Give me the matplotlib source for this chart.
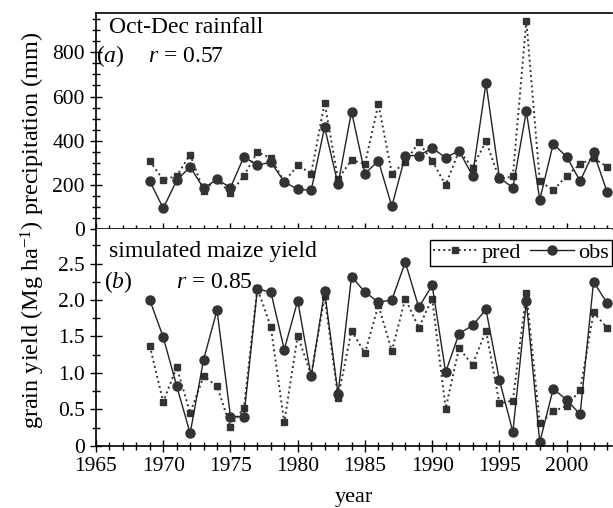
import matplotlib.pyplot as plt
from matplotlib.ticker import MultipleLocator

plt.rcParams['font.family'] = ['Liberation Serif', 'DejaVu Serif']
plt.rcParams['mathtext.fontset'] = 'custom'
plt.rcParams['mathtext.rm'] = 'Liberation Serif'
plt.rcParams['mathtext.it'] = 'Liberation Serif:italic'

years = list(range(1969, 2004))

rain_obs = [218, 95, 221, 282, 185, 226, 188, 328, 289, 304, 214, 181, 176, 461, 203, 532,
            252, 309, 104, 333, 333, 367, 324, 355, 242, 661, 233, 188, 533, 134, 386, 328,
            218, 348, 170]
rain_pred = [309, 223, 242, 337, 175, 227, 163, 242, 349, 322, 215, 289, 252, 571, 227, 313,
             295, 566, 252, 303, 393, 309, 200, 355, 279, 399, 226, 239, 943, 218, 176, 242,
             295, 321, 283]

yield_obs = [2.00, 1.49, 0.82, 0.17, 1.18, 1.86, 0.40, 0.40, 2.15, 2.11, 1.32, 1.99, 0.95,
             2.12, 0.71, 2.32, 2.11, 1.97, 2.00, 2.52, 1.90, 2.20, 1.01, 1.54, 1.65, 1.87,
             0.90, 0.19, 1.98, 0.05, 0.78, 0.63, 0.43, 2.25, 1.96]
yield_pred = [1.37, 0.60, 1.08, 0.45, 0.95, 0.82, 0.26, 0.52, 2.16, 1.63, 0.32, 1.51, 0.97,
              2.05, 0.66, 1.58, 1.27, 1.93, 1.30, 2.02, 1.62, 2.02, 0.51, 1.34, 1.11, 1.58,
              0.58, 0.62, 2.10, 0.31, 0.47, 0.55, 0.76, 1.83, 1.62]

fig = plt.figure(figsize=(6.13, 5.08), dpi=100)
left, right = 96 / 613, 0.999
ax1 = fig.add_axes([left, 0.5486, right - left, 0.9738 - 0.5486])
ax2 = fig.add_axes([left, 0.1226, right - left, 0.5486 - 0.1226])

col = '#333333'
for ax, pred, obs in [(ax1, rain_pred, rain_obs), (ax2, yield_pred, yield_obs)]:
    ax.plot(years, pred, linestyle=':', color=col, lw=1.4, marker='s', ms=5,
            mfc=col, mec=col, label='pred')
    ax.plot(years, obs, linestyle='-', color='#222222', lw=1.0, marker='o', ms=6.5,
            mfc=col, mec=col, label='obs')
    ax.set_xlim(1965, 2003.4)
    ax.xaxis.set_major_locator(MultipleLocator(5))
    ax.xaxis.set_minor_locator(MultipleLocator(1))
    ax.tick_params(which='both', direction='inout', labelsize=15.5, width=1.0)
    ax.tick_params(which='major', length=8, pad=4)
    ax.tick_params(which='minor', length=6)
    ax.tick_params(axis='x', top=False)
    ax.spines['right'].set_visible(False)
    for s in ['left', 'bottom', 'top']:
        ax.spines[s].set_linewidth(1.2)

ax1.set_ylim(0, 976)
ax1.yaxis.set_major_locator(MultipleLocator(200))
ax1.yaxis.set_minor_locator(MultipleLocator(50))
ax1.tick_params(axis='x', labelbottom=False)
ax1.set_yticks([0, 200, 400, 600, 800])
ax1.set_yticklabels(['0', '200', '400', '600', '800'])

ax2.set_ylim(0, 2.97)
ax2.yaxis.set_major_locator(MultipleLocator(0.5))
ax2.yaxis.set_minor_locator(MultipleLocator(0.25))
ax2.set_yticks([0, 0.5, 1.0, 1.5, 2.0, 2.5])
ax2.set_yticklabels(['0', '0.5', '1.0', '1.5', '2.0', '2.5'])
ax2.spines['top'].set_visible(False)
ax2.set_xlabel('year', fontsize=16, labelpad=9)

ax1.text(0.025, 0.91, 'Oct-Dec rainfall', transform=ax1.transAxes, fontsize=17, va='baseline')
ax1.text(0.0, 0.775, r'($\mathit{a}$)', transform=ax1.transAxes, fontsize=17, va='baseline')
ax1.text(0.10, 0.775, r'$\mathit{r}$ = 0.57', transform=ax1.transAxes, fontsize=17, va='baseline')

ax2.text(0.025, 0.87, 'simulated maize yield', transform=ax2.transAxes, fontsize=17, va='baseline')
ax2.text(0.015, 0.73, r'($\mathit{b}$)', transform=ax2.transAxes, fontsize=17, va='baseline')
ax2.text(0.155, 0.73, r'$\mathit{r}$ = 0.85', transform=ax2.transAxes, fontsize=17, va='baseline')

leg = ax2.legend(loc='upper right', bbox_to_anchor=(612 / 613, 1 - 240 / 508),
                 bbox_transform=fig.transFigure, ncol=2, fontsize=16, frameon=True,
                 fancybox=False, edgecolor='black', handlelength=2.0, handletextpad=0.2,
                 columnspacing=0.4, borderpad=0.12, borderaxespad=0, framealpha=1)
leg.get_frame().set_linewidth(1.0)

fig.text(0.054, 0.547, r'grain yield (Mg ha$^{-1}$) precipitation (mm)', rotation=90,
         fontsize=17.5, ha='center', va='center')

fig.savefig('out.png', dpi=100)
